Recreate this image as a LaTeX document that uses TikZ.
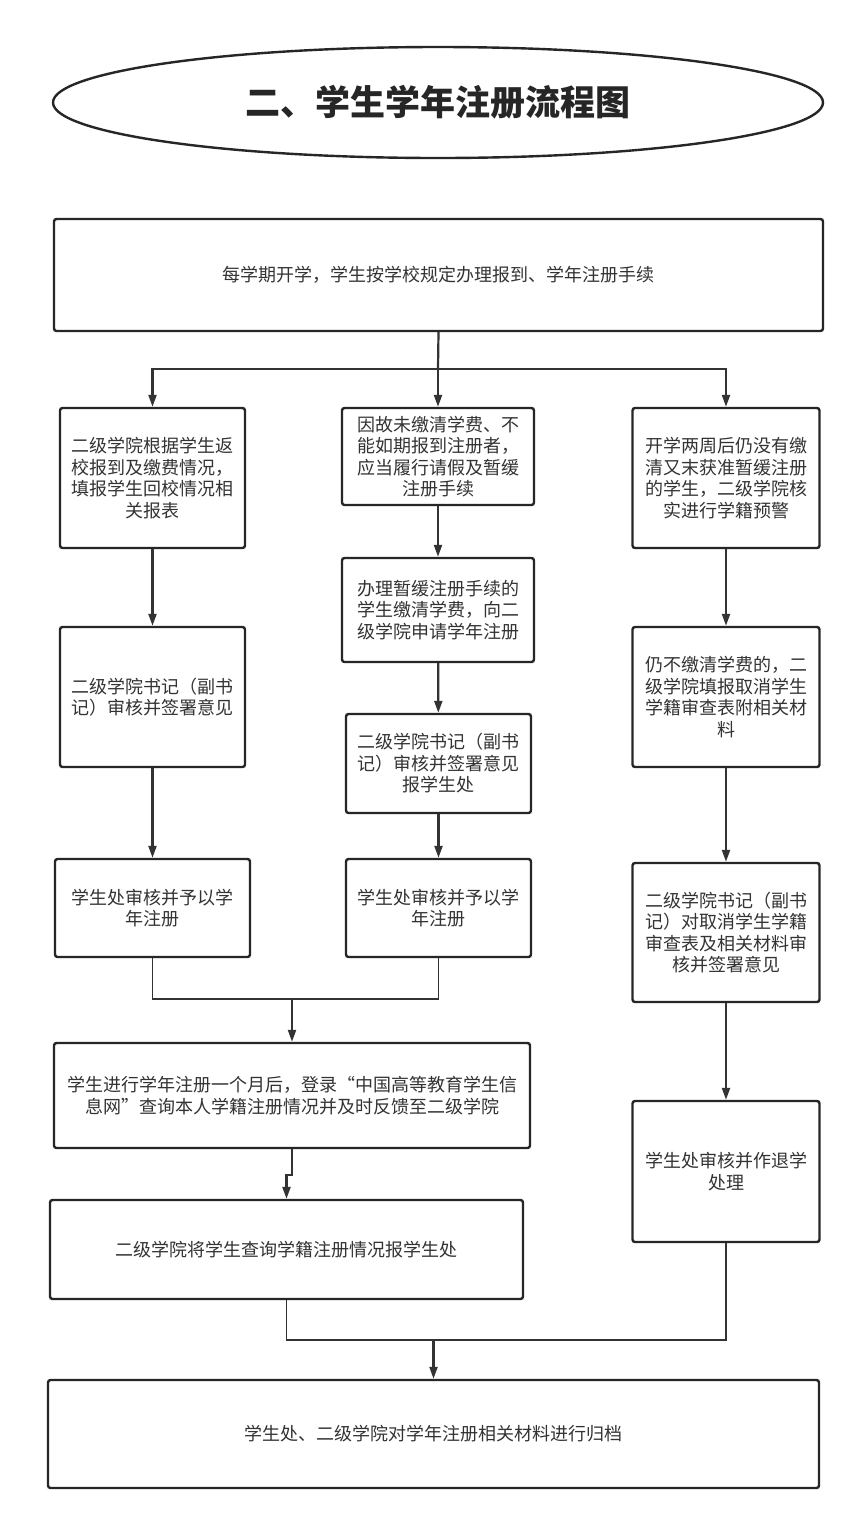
\documentclass[tikz,border=0pt]{standalone}
\usepackage{fontspec}
\setmainfont{Noto Sans CJK SC}
\usepackage{tikz}
\usetikzlibrary{shapes.geometric,arrows.meta,positioning,calc}

\begin{document}
\begin{tikzpicture}[
    x=1pt, y=-1pt,
    stepbox/.style 2 args={rectangle, draw=black!85, line width=2.4pt, rounded corners=2.5pt,
        align=center, inner sep=2pt, minimum width=#1, minimum height=#2,
        font=\fontsize{18}{21.5}\selectfont, text=black!80},
    titlebox/.style={ellipse, draw=black!85, line width=2.4pt, minimum width=770pt, minimum height=111pt,
        inner sep=0pt, font=\fontsize{35}{40}\selectfont\bfseries, text=black!85},
    arrow/.style={-{Triangle[length=12pt,width=8pt]}, line width=2.2pt, draw=black!80},
    link/.style={line width=1.4pt, draw=black!80}
]
    % Page
    \fill[white] (0,0) rectangle (854,1519);
    \useasboundingbox (0,0) rectangle (854,1519);

    % Title
    \node[titlebox] (title) at (438,102.5) {二、学生学年注册流程图};

    % Start
    \node[stepbox={769pt}{112pt}] (start) at (438.5,275) {每学期开学，学生按学校规定办理报到、学年注册手续};

    % Left branch
    \node[stepbox={185pt}{140pt}] (left1) at (152.5,478) {二级学院根据学生返\\校报到及缴费情况，\\填报学生回校情况相\\关报表};
    \node[stepbox={185pt}{140pt}] (left2) at (152.5,697) {二级学院书记（副书\\记）审核并签署意见};
    \node[stepbox={195pt}{98pt}] (left3) at (152.5,908) {学生处审核并予以学\\年注册};

    % Middle branch
    \node[stepbox={192pt}{97pt}] (mid1) at (438,456.5) {因故未缴清学费、不\\能如期报到注册者，\\应当履行请假及暂缓\\注册手续};
    \node[stepbox={192pt}{104pt}] (mid2) at (438,610) {办理暂缓注册手续的\\学生缴清学费，向二\\级学院申请学年注册};
    \node[stepbox={185pt}{99pt}] (mid3) at (438.5,763.5) {二级学院书记（副书\\记）审核并签署意见\\报学生处};
    \node[stepbox={185pt}{98pt}] (mid4) at (438.5,908) {学生处审核并予以学\\年注册};

    % Right branch
    \node[stepbox={187pt}{140pt}] (right1) at (726,478) {开学两周后仍没有缴\\清又末获准暂缓注册\\的学生，二级学院核\\实进行学籍预警};
    \node[stepbox={187pt}{140pt}] (right2) at (726,697) {仍不缴清学费的，二\\级学院填报取消学生\\学籍审查表附相关材\\料};
    \node[stepbox={187pt}{139pt}] (right3) at (726,932.5) {二级学院书记（副书\\记）对取消学生学籍\\审查表及相关材料审\\核并签署意见};
    \node[stepbox={187pt}{141pt}] (right4) at (726,1171.5) {学生处审核并作退学\\处理};

    % Lower steps
    \node[stepbox={476pt}{105pt}] (check) at (292,1095.5) {学生进行学年注册一个月后，登录“中国高等教育学生信\\息网”查询本人学籍注册情况并及时反馈至二级学院};
    \node[stepbox={473pt}{99pt}] (report) at (286.5,1249.5) {二级学院将学生查询学籍注册情况报学生处};
    \node[stepbox={771pt}{108pt}] (archive) at (433.5,1434) {学生处、二级学院对学年注册相关材料进行归档};

    % Split
    \coordinate (split) at (438,369);
    \draw[arrow, -] (start.south) -- (split);
    \draw[arrow] (split) -| (left1.north);
    \draw[arrow] (split) -- (mid1.north);
    \draw[arrow] (split) -| (right1.north);

    % Columns
    \draw[arrow] (left1) -- (left2);
    \draw[arrow] (left2) -- (left3);
    \draw[arrow] (mid1) -- (mid2);
    \draw[arrow] (mid2) -- (mid3);
    \draw[arrow] (mid3) -- (mid4);
    \draw[arrow] (right1) -- (right2);
    \draw[arrow] (right2) -- (right3);
    \draw[arrow] (right3) -- (right4);

    % Merges
    \coordinate (merge1) at (292,999);
    \draw[link] (left3.south) |- (merge1);
    \draw[link] (mid4.south) |- (merge1);
    \draw[arrow] (merge1) -- (check.north);
    \draw[arrow] (check.south) -- ++(0,26) -| (report.north);
    \coordinate (merge2) at (433.5,1340);
    \draw[link] (report.south) |- (merge2);
    \draw[link] (right4.south) |- (merge2);
    \draw[arrow] (merge2) -- (archive.north);
\end{tikzpicture}
\end{document}
